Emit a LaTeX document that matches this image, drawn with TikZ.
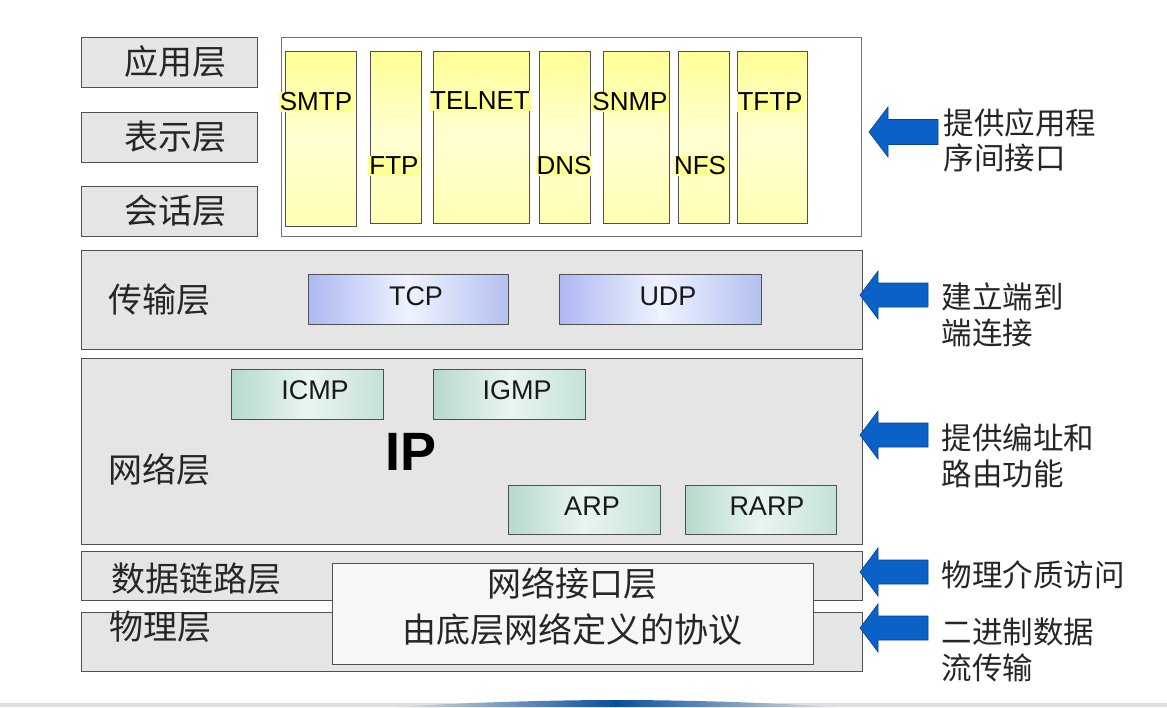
\documentclass[tikz,border=0pt]{standalone}
\usepackage{fontspec}
\setmainfont{Liberation Sans}
\newfontfamily\cjk{Noto Sans CJK SC}
\usetikzlibrary{shadings}
\definecolor{layerfill}{HTML}{E5E5E5}
\definecolor{layerdraw}{HTML}{505050}
\definecolor{ylwtop}{HTML}{FFFF96}
\definecolor{ylwbot}{HTML}{FFFFB4}
\definecolor{tcpl}{HTML}{AEB8F2}
\definecolor{tcpm}{HTML}{EEF3FF}
\definecolor{tcpr}{HTML}{B4C0F0}
\definecolor{netl}{HTML}{B6DACB}
\definecolor{netm}{HTML}{EAF5F0}
\definecolor{netr}{HTML}{C4E2D6}
\definecolor{arrblue}{HTML}{0A62C8}
\definecolor{arrdraw}{HTML}{08458E}
\tikzset{
  layer/.style={draw=layerdraw, line width=1.2pt, fill=layerfill, anchor=north west, inner sep=0pt},
  ylwcol/.style={draw=layerdraw, line width=1pt, top color=ylwtop, bottom color=ylwbot, middle color=ylwbot!60!white, anchor=north west, inner sep=0pt},
  ylwlabel/.style={fill=ylwtop, inner sep=1pt, font=\fontsize{26}{30}\selectfont},
  tcpbox/.style={draw=layerdraw, line width=1pt, left color=tcpl, right color=tcpr, middle color=tcpm, anchor=north west, inner sep=0pt},
  netbox/.style={draw=layerdraw, line width=1pt, left color=netl, right color=netr, middle color=netm, anchor=north west, inner sep=0pt},
  laytext/.style={font=\cjk\fontsize{34}{38}\selectfont, text=black!85},
  boxtext/.style={font=\fontsize{27}{30}\selectfont, text=black!90},
  desctext/.style={font=\cjk\fontsize{30.5}{36}\selectfont, anchor=west, text=black!85},
  bluearrow/.style={fill=arrblue, draw=arrdraw, line width=0.6pt}
}
\newcommand{\leftarrowshape}[5]{% tip x, y, back x, right x, half height head
  \draw[bluearrow] (#1,#2) -- (#3,#2-#5) -- (#3,#2-#5/2) -- (#4,#2-#5/2) -- (#4,#2+#5/2) -- (#3,#2+#5/2) -- (#3,#2+#5) -- cycle;}
\begin{document}
\begin{tikzpicture}[x=1pt,y=-1pt]
\useasboundingbox (0,0) rectangle (1167,707);
\fill[white] (0,0) rectangle (1167,707);

% upper OSI layers
\node[layer, minimum width=176pt, minimum height=50pt] (app) at (81,37) {};
\node[laytext] at (175,62) {应用层};
\node[layer, minimum width=176pt, minimum height=50pt] (pres) at (81,112) {};
\node[laytext] at (175,137) {表示层};
\node[layer, minimum width=176pt, minimum height=50pt] (sess) at (81,186) {};
\node[laytext] at (175,211) {会话层};

% application protocols box
\node[draw=layerdraw!80, line width=1pt, fill=white, anchor=north west, minimum width=580pt, minimum height=199pt, inner sep=0pt] (appbox) at (281,37) {};
\node[ylwcol, minimum width=71pt, minimum height=175pt] (smtp) at (285,51) {};
\node[ylwcol, minimum width=51pt, minimum height=172pt] (ftp) at (370,51) {};
\node[ylwcol, minimum width=96pt, minimum height=172pt] (telnet) at (433,51) {};
\node[ylwcol, minimum width=51pt, minimum height=172pt] (dns) at (539,51) {};
\node[ylwcol, minimum width=66pt, minimum height=172pt] (snmp) at (603,51) {};
\node[ylwcol, minimum width=51pt, minimum height=172pt] (nfs) at (678,51) {};
\node[ylwcol, minimum width=70pt, minimum height=172pt] (tftp) at (737,51) {};
\node[ylwlabel] (smtpl) at (316,102) {SMTP};
\node[ylwlabel] (ftpl) at (394,166) {FTP};
\node[ylwlabel] (telnetl) at (480,101) {TELNET};
\node[ylwlabel] (dnsl) at (564,166) {DNS};
\node[ylwlabel] (snmpl) at (630,102) {SNMP};
\node[ylwlabel] (nfsl) at (700,166) {NFS};
\node[ylwlabel] (tftpl) at (770,102) {TFTP};

% transport layer
\node[layer, minimum width=781pt, minimum height=99pt] (trans) at (81,250) {};
\node[laytext] at (159,300) {传输层};
\node[tcpbox, minimum width=200pt, minimum height=50pt] (tcp) at (308,274) {};
\node[boxtext] at (416,296) {TCP};
\node[tcpbox, minimum width=202pt, minimum height=50pt] (udp) at (559,274) {};
\node[boxtext] at (668,296) {UDP};

% network layer
\node[layer, minimum width=781pt, minimum height=186pt] (net) at (81,358) {};
\node[laytext] at (159,470) {网络层};
\node[netbox, minimum width=152pt, minimum height=50pt] (icmp) at (231,369) {};
\node[boxtext] at (315,390) {ICMP};
\node[netbox, minimum width=152pt, minimum height=50pt] (igmp) at (433,369) {};
\node[boxtext] at (517,390) {IGMP};
\node[font=\bfseries\fontsize{54}{60}\selectfont] (ip) at (411,452) {IP};
\node[netbox, minimum width=152pt, minimum height=49pt] (arp) at (508,485) {};
\node[boxtext] at (592,506) {ARP};
\node[netbox, minimum width=151pt, minimum height=49pt] (rarp) at (685,485) {};
\node[boxtext] at (767,506) {RARP};

% data link and physical
\node[layer, minimum width=781pt, minimum height=49pt] (dl) at (81,551) {};
\node[laytext] at (196,579) {数据链路层};
\node[layer, minimum width=781pt, minimum height=59pt] (phy) at (81,612) {};
\node[laytext] at (160,627) {物理层};
\node[draw=layerdraw, line width=1.2pt, fill=black!3, anchor=north west, minimum width=481pt, minimum height=101pt, inner sep=0pt] (nif) at (332,563) {};
\node[laytext] at (572,584) {网络接口层};
\node[laytext] at (572,630) {由底层网络定义的协议};

% arrows
\leftarrowshape{869}{132}{888}{938}{25}
\leftarrowshape{860}{295}{878}{928}{24}
\leftarrowshape{860}{435}{878}{928}{24}
\leftarrowshape{860}{572}{878}{928}{24}
\leftarrowshape{860}{628}{878}{928}{24}

% descriptions
\node[desctext] (d1a) at (940,123) {提供应用程};
\node[desctext] (d1b) at (940,158) {序间接口};
\node[desctext] (d2a) at (938,297) {建立端到};
\node[desctext] (d2b) at (938,333) {端连接};
\node[desctext] (d3a) at (938,438) {提供编址和};
\node[desctext] (d3b) at (938,474) {路由功能};
\node[desctext] (d4a) at (938,575) {物理介质访问};
\node[desctext] (d5a) at (938,632) {二进制数据};
\node[desctext] (d5b) at (938,668) {流传输};

% bottom strip
\fill[black!12] (0,703) rectangle (1167,707);
\shade[left color=black!12, right color=arrblue!80!black] (396,707) .. controls (450,703) and (550,700) .. (616,700) -- (616,707) -- cycle;
\shade[left color=arrblue!80!black, right color=black!12] (615,700) .. controls (690,700) and (780,703) .. (836,707) -- (615,707) -- cycle;
\end{tikzpicture}
\end{document}
